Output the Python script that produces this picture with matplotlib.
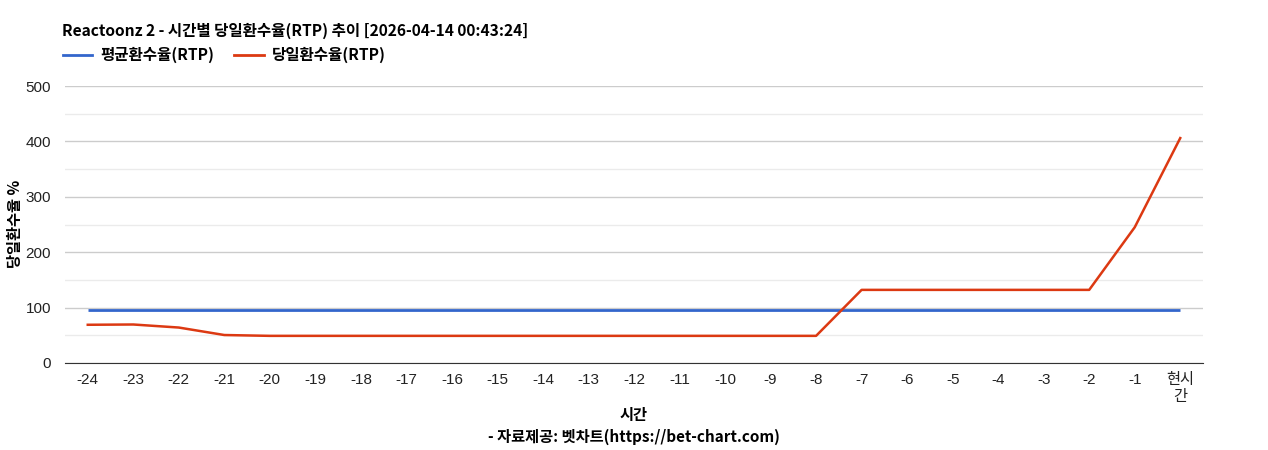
import matplotlib
matplotlib.use('Agg')
import matplotlib.pyplot as plt
from matplotlib.lines import Line2D

# data
hours = ['-24', '-23', '-22', '-21', '-20', '-19', '-18', '-17', '-16', '-15',
         '-14', '-13', '-12', '-11', '-10', '-9', '-8', '-7', '-6', '-5',
         '-4', '-3', '-2', '-1', '현시\n간']
avg_rtp = [96] * 25
day_rtp = [69, 69.5, 64, 50.5, 49, 49, 49, 49, 49, 49,
           49, 49, 49, 49, 49, 49, 49, 132, 132, 132,
           132, 132, 132, 245, 406]

title = 'Reactoonz 2 - 시간별 당일환수율(RTP) 추이 [2026-04-14 00:43:24]'

plt.rcParams['font.family'] = ['Noto Sans CJK KR', 'DejaVu Sans']
tick_font = ['Liberation Sans', 'Noto Sans CJK KR']

fig = plt.figure(figsize=(12.68, 4.5), dpi=100)
ax = fig.add_axes([65 / 1268, (450 - 363) / 450, (1203 - 65) / 1268, (363 - 86) / 450])

x = list(range(len(hours)))
ax.plot(x, avg_rtp, color='#3366cc', lw=2, solid_capstyle='butt', zorder=3)
ax.plot(x, day_rtp, color='#dc3912', lw=1.8, solid_joinstyle='round', zorder=4)

ax.set_xlim(-0.5, len(hours) - 0.5)
ax.set_ylim(0, 500)
ax.set_yticks(range(0, 501, 100))
ax.set_yticks(range(50, 500, 100), minor=True)
ax.grid(axis='y', which='major', color='#cccccc', lw=1)
ax.grid(axis='y', which='minor', color='#ebebeb', lw=1)
ax.set_axisbelow(True)
for s in ['top', 'right', 'left']:
    ax.spines[s].set_visible(False)
ax.spines['bottom'].set_color('#333333')

ax.set_xticks(x)
ax.set_xticklabels(hours, family=tick_font, fontsize=11, linespacing=1.3, va='top')
for lab in ax.get_yticklabels():
    lab.set_family(tick_font)
    lab.set_fontsize(11)
ax.tick_params(axis='both', which='both', length=0, pad=7, colors='#222222')
ax.tick_params(axis='y', pad=10)

fig.text(15 / 1268, 1 - 224 / 450, '당일환수율 %', rotation=90, ha='center', va='center',
         fontsize=11, fontweight='bold')
fig.text(634 / 1268, 1 - 415 / 450, '시간', ha='center', va='center',
         fontsize=11, fontweight='bold')
fig.text(634 / 1268, 1 - 437 / 450, '- 자료제공: 벳차트(https://bet-chart.com)',
         ha='center', va='center', fontsize=11, fontweight='bold')

fig.text(62 / 1268, 1 - 31 / 450, title, ha='left', va='center',
         fontsize=11.2, fontweight='bold')

handles = [Line2D([], [], color='#3366cc', lw=2),
           Line2D([], [], color='#dc3912', lw=2)]
fig.legend(handles, ['평균환수율(RTP)', '당일환수율(RTP)'], loc='center left',
           bbox_to_anchor=(55 / 1268, 1 - 55 / 450), ncol=2, frameon=False,
           prop={'weight': 'bold', 'size': 11.2}, handlelength=1.9,
           columnspacing=1.3, handletextpad=0.5, borderpad=0)

fig.savefig('out.png', dpi=100)
